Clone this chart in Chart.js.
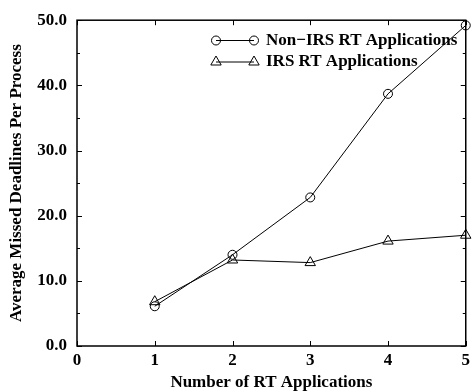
<!DOCTYPE html>
<html>
<head>
<meta charset="utf-8">
<script src="https://cdn.jsdelivr.net/npm/chart.js@4"></script>
<style>
  html, body { margin: 0; padding: 0; background: #fff; }
  #wrap { width: 474px; height: 391px; position: relative; }
</style>
</head>
<body>
<div id="wrap"><canvas id="c" width="474" height="391"></canvas></div>
<script>
// ---- data ----
const categories = [1, 2, 3, 4, 5];
const nonIrsValues = [6.1, 14.0, 22.8, 38.7, 49.2];
const irsValues = [6.8, 13.2, 12.8, 16.1, 17.0];
const seriesNames = ['Non\u2212IRS RT Applications', 'IRS RT Applications'];
const xTickLabels = ['0', '1', '2', '3', '4', '5'];
const yTickLabels = ['0.0', '10.0', '20.0', '30.0', '40.0', '50.0'];
const xTitle = 'Number of RT Applications';
const yTitle = 'Average Missed Deadlines Per Process';

const FONT = 'Liberation Serif';

const framePlugin = {
  id: 'frame',
  afterDraw(chart) {
    const { ctx, chartArea: a, scales: { x, y } } = chart;
    ctx.save();
    ctx.strokeStyle = '#000';
    ctx.lineWidth = 1.5;
    ctx.strokeRect(a.left, a.top, a.right - a.left, a.bottom - a.top);
    ctx.lineWidth = 1;
    ctx.beginPath();
    for (let v = 0; v <= 5; v++) {
      const px = Math.round(x.getPixelForValue(v)) + 0.5;
      ctx.moveTo(px, a.bottom); ctx.lineTo(px, a.bottom - 5);
      ctx.moveTo(px, a.top); ctx.lineTo(px, a.top + 5);
    }
    for (let v = 0; v <= 50; v += 5) {
      const py = Math.round(y.getPixelForValue(v)) + 0.5;
      const len = (v % 10 === 0) ? 5 : 3;
      ctx.moveTo(a.left, py); ctx.lineTo(a.left + len, py);
      ctx.moveTo(a.right, py); ctx.lineTo(a.right - len, py);
    }
    ctx.stroke();

    // legend
    const rows = [
      { name: seriesNames[0], style: 'circle', y: 40.5 },
      { name: seriesNames[1], style: 'triangle', y: 62 }
    ];
    const x0 = 216, x1 = 254;
    ctx.font = 'bold 17px "' + FONT + '"';
    ctx.textBaseline = 'middle';
    ctx.textAlign = 'left';
    ctx.fillStyle = '#000';
    rows.forEach(r => {
      ctx.beginPath();
      ctx.moveTo(x0, r.y); ctx.lineTo(x1, r.y);
      ctx.stroke();
      [x0, x1].forEach(px => {
        ctx.beginPath();
        if (r.style === 'circle') {
          ctx.arc(px, r.y, 4.5, 0, Math.PI * 2);
        } else {
          const rr = 6;
          ctx.moveTo(px, r.y - rr);
          ctx.lineTo(px + rr * Math.sin(2 * Math.PI / 3), r.y - rr * Math.cos(2 * Math.PI / 3));
          ctx.lineTo(px + rr * Math.sin(4 * Math.PI / 3), r.y - rr * Math.cos(4 * Math.PI / 3));
          ctx.closePath();
        }
        ctx.stroke();
      });
      ctx.fillText(r.name, 266, r.y);
    });
    ctx.restore();
  }
};

new Chart(document.getElementById('c'), {
  type: 'line',
  data: {
    labels: categories,
    datasets: [
      {
        label: seriesNames[0],
        data: categories.map((c, i) => ({ x: c, y: nonIrsValues[i] })),
        borderColor: '#000', borderWidth: 1,
        pointStyle: 'circle', pointRadius: 4.5,
        pointBorderColor: '#000', pointBackgroundColor: 'rgba(0,0,0,0)', pointBorderWidth: 1,
        tension: 0, clip: false
      },
      {
        label: seriesNames[1],
        data: categories.map((c, i) => ({ x: c, y: irsValues[i] })),
        borderColor: '#000', borderWidth: 1,
        pointStyle: 'triangle', pointRadius: 6,
        pointBorderColor: '#000', pointBackgroundColor: 'rgba(0,0,0,0)', pointBorderWidth: 1,
        tension: 0, clip: false
      }
    ]
  },
  options: {
    responsive: false,
    animation: false,
    devicePixelRatio: 1,
    layout: { padding: { top: 17, right: 4, left: 0, bottom: 0 } },
    plugins: { legend: { display: false }, tooltip: { enabled: false } },
    scales: {
      x: {
        type: 'linear', min: 0, max: 5,
        grid: { display: false, drawTicks: false },
        border: { display: false },
        afterFit: s => { s.height = 45; },
        afterBuildTicks: s => { s.ticks = xTickLabels.map(t => ({ value: Number(t) })); },
        ticks: {
          padding: 4, color: '#000', maxRotation: 0, autoSkip: false,
          font: { family: FONT, size: 17, weight: 'bold' },
          callback: (v) => xTickLabels[xTickLabels.indexOf(String(v))]
        },
        title: {
          display: true, text: xTitle, color: '#000',
          font: { family: FONT, size: 17, weight: 'bold', lineHeight: 1 },
          padding: { top: 0, bottom: 0 }
        }
      },
      y: {
        type: 'linear', min: 0, max: 50,
        grid: { display: false, drawTicks: false },
        border: { display: false },
        afterFit: s => { s.width = 77; },
        afterBuildTicks: s => { s.ticks = yTickLabels.map(t => ({ value: Number(t) })); },
        ticks: {
          padding: 10, color: '#000', autoSkip: false,
          font: { family: FONT, size: 17, weight: 'bold' },
          callback: (v) => yTickLabels[yTickLabels.map(Number).indexOf(v)]
        },
        title: {
          display: true, text: yTitle, color: '#000',
          font: { family: FONT, size: 17, weight: 'bold', lineHeight: 1.2 },
          padding: { top: 6.5, bottom: 0 }
        }
      }
    }
  },
  plugins: [framePlugin]
});
</script>
</body>
</html>
